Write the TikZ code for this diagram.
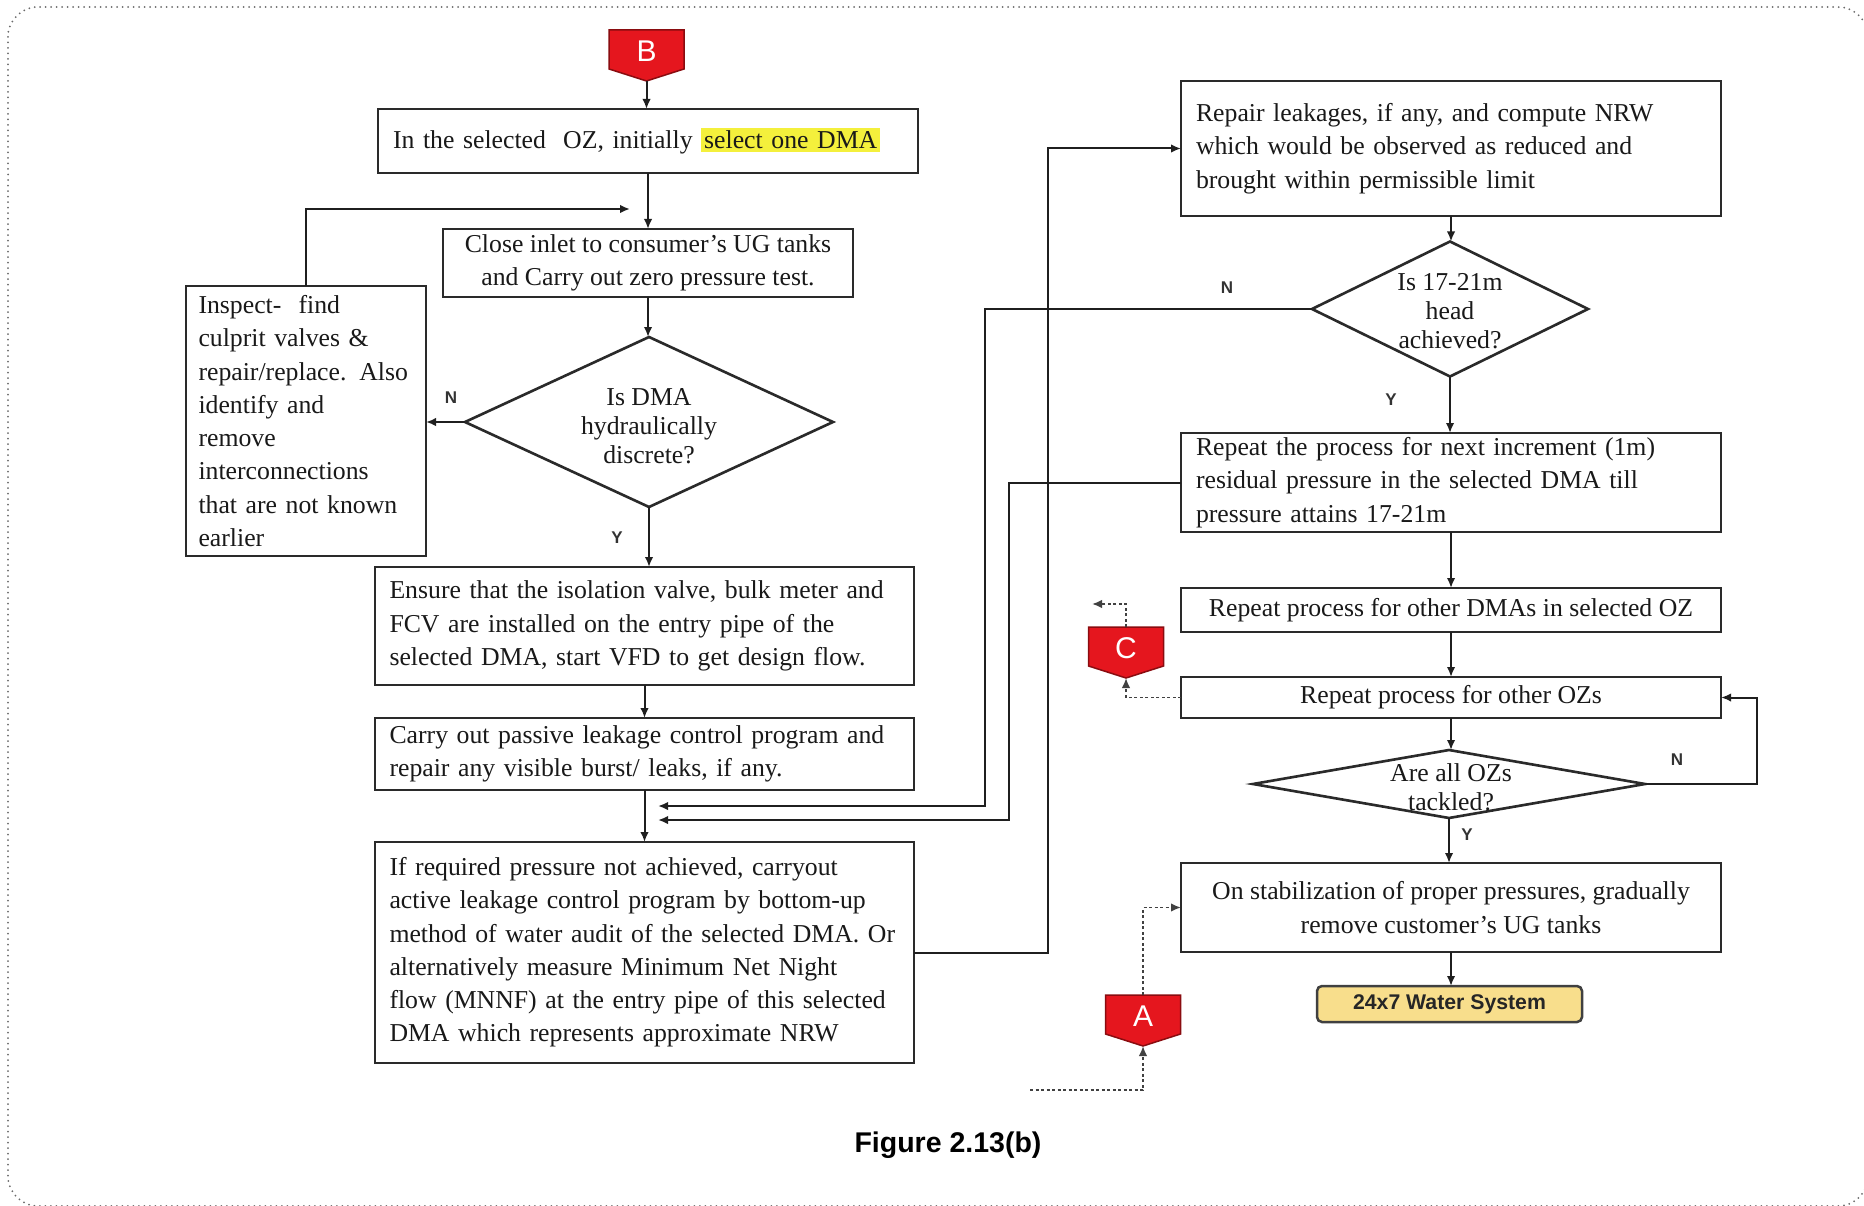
\documentclass[tikz,border=0pt]{standalone}
\usepackage{fontspec}
\setmainfont{Liberation Serif}
\newfontfamily\labelsans{Liberation Sans}
\usetikzlibrary{arrows.meta,shapes.geometric}

\hyphenpenalty=10000
\exhyphenpenalty=10000

\definecolor{boxline}{HTML}{2A2A2A}
\definecolor{wire}{HTML}{1F1F1F}
\definecolor{conred}{HTML}{E5161E}
\definecolor{conedge}{HTML}{8A0C10}
\definecolor{hly}{HTML}{F4F03C}
\definecolor{goalfill}{HTML}{F8DE8C}
\definecolor{framegray}{HTML}{6A6A6A}

% yellow marker behind a phrase
\newcommand\hlt[1]{{\setlength{\fboxsep}{1.2pt}\colorbox{hly}{#1}}}

% red off-page connector: name, centre x, top y, letter
\newcommand\offpage[4]{%
  \filldraw[fill=conred, draw=conedge, line width=0.6pt]
    ({#2-37.5},#3) -- ({#2+37.5},#3) -- ({#2+37.5},{#3+39}) -- (#2,{#3+51})
    -- ({#2-37.5},{#3+39}) -- cycle;
  \node[conletter] (#1) at (#2,{#3+21}) {#4};
  \coordinate (#1top) at (#2,#3);
  \coordinate (#1tip) at (#2,{#3+51});
}

\begin{document}
\begin{tikzpicture}[x=0.4pt, y=-0.4pt,
  every node/.style={inner sep=0pt, outer sep=0pt},
  size/.style 2 args={minimum width=#1*0.4pt, minimum height=#2*0.4pt},
  body/.style={font=\fontsize{10.3pt}{13.3pt}\selectfont, text=black!90},
  stepbox/.style={body, rectangle, draw=boxline, line width=1.05pt, fill=white},
  leftbox/.style={stepbox, text width=204pt, align=left},
  midbox/.style={stepbox, align=center},
  decision/.style={diamond, draw=boxline, line width=1.05pt, fill=white},
  dectext/.style={font=\fontsize{10.3pt}{11.6pt}\selectfont, text=black!90, align=center},
  yn/.style={font=\labelsans\bfseries\fontsize{6.8pt}{8pt}\selectfont, text=black!80},
  conletter/.style={font=\labelsans\fontsize{12pt}{14pt}\selectfont, text=white},
  goalbox/.style={rectangle, rounded corners=2pt, draw=black!75, line width=1pt,
    fill=goalfill, text=black!85, font=\labelsans\bfseries\fontsize{8.5pt}{10pt}\selectfont},
  arr/.style={draw=wire, line width=0.8pt, -{Latex[length=4pt,width=3.4pt]}},
  dotarr/.style={draw=wire!85, line width=0.7pt, dash pattern=on 1.2pt off 1pt,
    -{Latex[length=4pt,width=3.4pt]}},
  framestyle/.style={draw=framegray, line width=0.8pt, line cap=round,
    dash pattern=on 0pt off 2.2pt, rounded corners=12pt}
]
\path[use as bounding box] (0,0) rectangle (1864,1205);
\clip (0,0) rectangle (1864,1205);

% outer dotted frame
\draw[framestyle] (8,7) rectangle (1868,1206);

% ---------- left column ----------
\offpage{B}{646.5}{30}{B}

\node[leftbox, size={540}{64}] (box1) at (648,141)
  {In the selected~ OZ, initially \hlt{select one DMA}};
\node[midbox, size={410}{68}] (close) at (648,263)
  {Close inlet to consumer's UG tanks\\and Carry out zero pressure test.};
\node[decision, size={368}{170}] (d1) at (649,422) {};
\node[dectext] (d1t) at (649,426) {Is DMA\\hydraulically\\discrete?};
\node[stepbox, text width=86pt, align=left, size={240}{270}] (insp) at (306,421)
  {Inspect-~ find\\culprit valves \&\\repair/replace. Also\\identify and\\remove\\interconnections\\that are not known\\earlier};
\node[leftbox, size={539}{118}] (ensure) at (644.5,626)
  {Ensure that the isolation valve, bulk meter and\\FCV are installed on the entry pipe of the\\selected DMA, start VFD to get design flow.};
\node[leftbox, size={539}{72}] (carry) at (644.5,754)
  {Carry out passive leakage control program and\\repair any visible burst/ leaks, if any.};
\node[leftbox, size={539}{221}] (ifreq) at (644.5,952.5)
  {If required pressure not achieved, carryout\\active leakage control program by bottom-up\\method of water audit of the selected DMA. Or\\alternatively measure Minimum Net Night\\flow (MNNF) at the entry pipe of this selected\\DMA which represents approximate NRW};

% ---------- right column ----------
\node[leftbox, size={540}{135}] (repair) at (1451,148.5)
  {Repair leakages, if any, and compute NRW\\which would be observed as reduced and\\brought within permissible limit};
\node[decision, size={276}{135}] (d2) at (1450,309) {};
\node[dectext] (d2t) at (1450,311) {Is 17-21m\\head\\achieved?};
\node[leftbox, size={540}{99}] (rep1) at (1451,482.5)
  {Repeat the process for next increment (1m)\\residual pressure in the selected DMA till\\pressure attains 17-21m};
\node[midbox, size={540}{44}] (repdma) at (1451,610)
  {Repeat process for other DMAs in selected OZ};
\node[midbox, size={540}{41}] (repoz) at (1451,697.5)
  {Repeat process for other OZs};
\node[decision, size={392}{68}] (d3) at (1449,784) {};
\node[dectext] (d3t) at (1451,787) {Are all OZs\\tackled?};
\node[midbox, size={540}{89}] (onstab) at (1451,907.5)
  {On stabilization of proper pressures, gradually\\remove customer's UG tanks};
\node[goalbox, size={265}{36}] (goal) at (1449.5,1004) {24x7 Water System};

\offpage{C}{1126}{627}{C}
\offpage{A}{1143}{995}{A}

% ---------- branch labels ----------
\node[yn] (d1n) at (451,398) {N};
\node[yn] (d1y) at (617,538) {Y};
\node[yn] (d2n) at (1227,288) {N};
\node[yn] (d2y) at (1391,400) {Y};
\node[yn] (d3n) at (1677,760) {N};
\node[yn] (d3y) at (1467,835) {Y};

\node[font=\labelsans\bfseries\fontsize{11.4pt}{13pt}\selectfont] (caption) at (948,1145)
  {Figure 2.13(b)};

% ---------- connectors ----------
\coordinate (loopin) at (630,209);
\coordinate (back1) at (658,806);
\coordinate (back2) at (658,820);
\coordinate (Cout) at (1092,604);
\coordinate (Ain) at (1030,1090);

\draw[arr] (Btip) -- (Btip |- box1.north);
\draw[arr] (box1.south) -- (box1.south |- close.north);
\draw[arr] (close.south) -- (close.south |- d1.north);
\draw[arr] (d1.west) -- (d1.west -| insp.east);
\draw[arr] (insp.north) |- (loopin);
\draw[arr] (d1.south) -- (d1.south |- ensure.north);
\draw[arr] (ensure.south) -- (carry.north);
\draw[arr] (carry.south) -- (ifreq.north);

\draw[arr] (d2.west) -- ++(-327,0) |- (back1);
\draw[arr] (rep1.west) -- ++(-172,0) |- (back2);
\draw[arr] (ifreq.east) -- ++(134,0) |- (repair.west);

\draw[arr] (repair.south) -- (repair.south |- d2.north);
\draw[arr] (d2.south) -- (d2.south |- rep1.north);
\draw[arr] (rep1.south) -- (repdma.north);
\draw[arr] (repdma.south) -- (repoz.north);
\draw[arr] (repoz.south) -- (repoz.south |- d3.north);
\draw[arr] (d3.east) -- ++(112,0) |- (repoz.east);
\draw[arr] (d3.south) -- (d3.south |- onstab.north);
\draw[arr] (onstab.south) -- (onstab.south |- goal.north);

\draw[dotarr] (repoz.west) -| (Ctip);
\draw[dotarr] (Ctop) |- (Cout);
\draw[dotarr] (Ain) -| (Atip);
\draw[dotarr] (Atop) |- (onstab.west);
\end{tikzpicture}
\end{document}
